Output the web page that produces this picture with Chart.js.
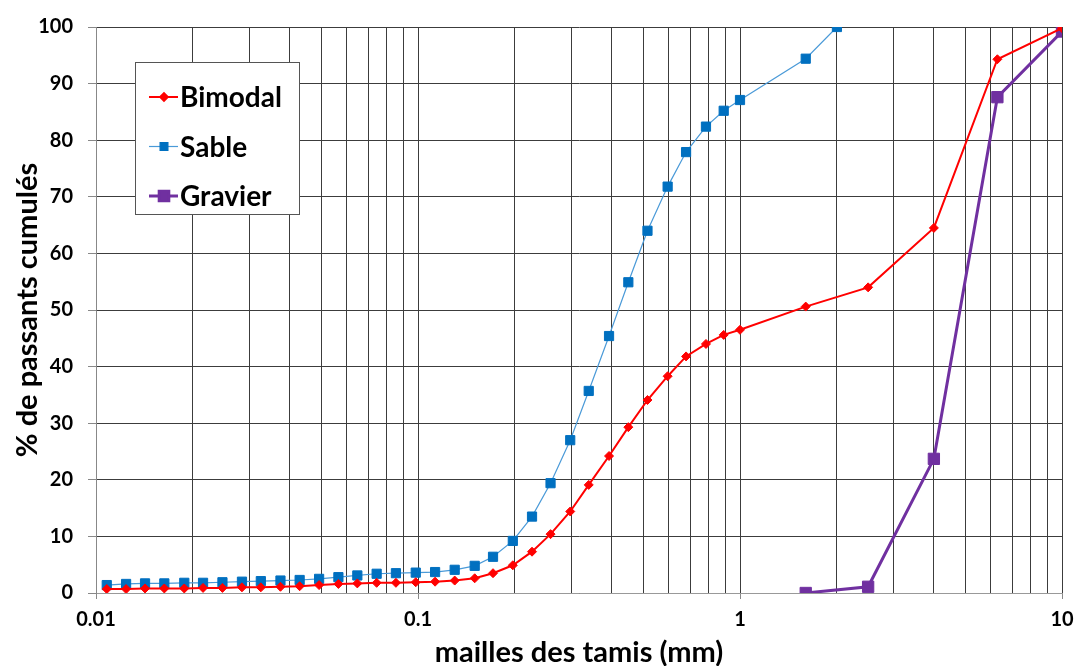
<!DOCTYPE html>
<html>
<head>
<meta charset="utf-8">
<script src="https://cdn.jsdelivr.net/npm/chart.js@4/dist/chart.umd.min.js"></script>
<style>
  html,body{margin:0;padding:0;background:#fff;}
  #wrap{width:1077px;height:666px;}
</style>
</head>
<body>
<div id="wrap"><canvas id="c" width="1077" height="666"></canvas></div>
<script>
/* ===== données ===== */
const xFines = [0.0108,0.0124,0.0142,0.0163,0.0188,0.0215,0.0247,0.0284,0.0325,0.0374,0.0429,0.0493,
  0.0566,0.0648,0.0744,0.0854,0.0984,0.113,0.130,0.150,0.171,0.197,0.226,0.258,0.297,0.339,0.392,
  0.450,0.516,0.596,0.680,0.784,0.890,1.0];
const xSable = xFines.concat([1.6, 2.0]);
const ySable = [1.4,1.6,1.7,1.7,1.8,1.8,1.9,2.0,2.1,2.2,2.3,2.5,2.8,3.1,3.4,3.5,3.6,3.7,4.1,4.8,6.4,9.2,
  13.5,19.4,27.0,35.7,45.4,54.9,64.0,71.8,77.9,82.4,85.2,87.1,94.4,100];
const xBimodal = xFines.concat([1.6, 2.5, 4, 6.3, 10]);
const yBimodal = [0.7,0.7,0.8,0.8,0.8,0.9,0.9,1.0,1.0,1.1,1.2,1.4,1.6,1.7,1.8,1.8,1.9,2.0,2.2,2.6,3.5,4.9,
  7.3,10.4,14.4,19.1,24.2,29.3,34.1,38.3,41.8,44.0,45.6,46.5,50.6,54.0,64.5,94.3,99.8];
const xGravier = [1.6, 2.5, 4, 6.3, 10];
const yGravier = [0, 1.1, 23.7, 87.6, 99.2];
const xMajor = [0.01, 0.1, 1, 10];

const pts = (xs, ys) => xs.map((x,i)=>({x:x, y:ys[i]}));
const isMajor = v => xMajor.some(m => Math.abs(v-m) < m*1e-6);
// grille log : 1..9 par décade
const xGrid = [];
xMajor.slice(0,-1).forEach(m => { for(let k=1;k<10;k++) xGrid.push(+(m*k).toPrecision(6)); });
xGrid.push(xMajor[xMajor.length-1]);

const FONT = 'Lato, "Open Sans", "DejaVu Sans", sans-serif';
const GRID = '#3c3c3c';

/* légende dessinée dans le cadre, en haut à gauche */
const boxLegend = {
  id:'boxLegend',
  afterDraw(chart){
    const ctx = chart.ctx;
    ctx.save();
    ctx.fillStyle = '#fff';
    ctx.fillRect(135.5, 62.5, 164, 152);
    ctx.strokeStyle = '#555';
    ctx.lineWidth = 1;
    ctx.strokeRect(135.5, 62.5, 164, 152);
    chart.data.datasets.forEach((ds, i) => {
      const y = 97 + i*49.5;
      ctx.strokeStyle = ds.borderColor;
      ctx.lineWidth = ds.borderWidth;
      ctx.beginPath(); ctx.moveTo(149, y); ctx.lineTo(178, y); ctx.stroke();
      ctx.fillStyle = ds.pointBackgroundColor;
      ctx.strokeStyle = ds.pointBackgroundColor;
      Chart.helpers.drawPoint(ctx, {pointStyle: ds.pointStyle, radius: ds.pointRadius * 0.85, borderWidth: 1}, 164, y);
      ctx.fillStyle = '#000';
      ctx.font = 'bold 28px ' + FONT;
      ctx.textBaseline = 'middle';
      ctx.fillText(ds.label, 180, y + 1);
    });
    ctx.restore();
  }
};

new Chart(document.getElementById('c'), {
  type:'line',
  data:{ datasets:[
    {label:'Bimodal', data:pts(xBimodal, yBimodal), borderColor:'#ff0000', borderWidth:2,
      pointStyle:'rectRot', pointRadius:4.5, pointBackgroundColor:'#ff0000', pointBorderColor:'#ff0000', pointBorderWidth:1},
    {label:'Sable', data:pts(xSable, ySable), borderColor:'#4a9ad8', borderWidth:1.2,
      pointStyle:'rect', pointRadius:6.5, pointBackgroundColor:'#0070c0', pointBorderColor:'#0070c0', pointBorderWidth:1},
    {label:'Gravier', data:pts(xGravier, yGravier), borderColor:'#7030a0', borderWidth:3,
      pointStyle:'rect', pointRadius:8, pointBackgroundColor:'#7030a0', pointBorderColor:'#7030a0', pointBorderWidth:1}
  ]},
  options:{
    responsive:false, animation:false,
    layout:{padding:{top:27, right:15, left:0, bottom:0}},
    plugins:{legend:{display:false}, tooltip:{enabled:false}},
    scales:{
      x:{ type:'logarithmic', min:0.01, max:10,
        afterBuildTicks: s => { s.ticks = xGrid.map(v=>({value:v})); },
        afterFit: s => { s.height = 73; s.paddingLeft = 0; s.paddingRight = 0; },
        grid:{ color:GRID, lineWidth:1, tickLength:6,
          tickColor: c => (c.tick && isMajor(c.tick.value)) ? '#888' : 'rgba(0,0,0,0)' },
        border:{color:'#999'},
        ticks:{ autoSkip:false, maxRotation:0, padding:9, color:'#000',
          font:{family:FONT, size:20, weight:'bold'},
          callback: v => isMajor(v) ? String(v) : '' },
        title:{ display:true, text:'mailles des tamis (mm)', color:'#000',
          font:{family:FONT, size:29, weight:'bold'}, padding:{top:0, bottom:-4} }
      },
      y:{ min:0, max:100,
        afterFit: s => { s.width = 96; },
        grid:{ color:GRID, lineWidth:1, tickLength:8, tickColor:'#888' },
        border:{color:'#888'},
        ticks:{ stepSize:10, padding:15, color:'#000', font:{family:FONT, size:20, weight:'bold'} },
        title:{ display:true, text:'% de passants cumulés', color:'#000',
          font:{family:FONT, size:29, weight:'bold'}, padding:{top:10, bottom:0} }
      }
    }
  },
  plugins:[boxLegend]
});
</script>
</body>
</html>
